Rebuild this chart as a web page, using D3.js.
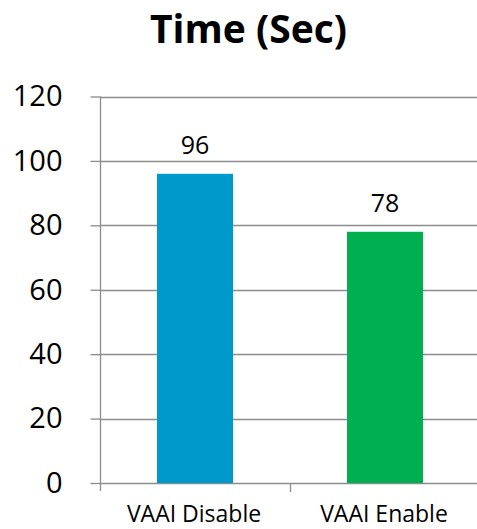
<!DOCTYPE html>
<html>
<head>
<meta charset="utf-8">
<script src="https://cdn.jsdelivr.net/npm/d3@7"></script>
<style>
  html, body { margin: 0; padding: 0; background: #fff; }
  svg { display: block; font-family: "Open Sans", "DejaVu Sans", sans-serif; }
</style>
</head>
<body>
<svg id="chart" width="477" height="529"></svg>
<script>
// Chart data
const categories = ["VAAI Disable", "VAAI Enable"];
const values = [96, 78];
const barColors = ["#0099CC", "#00B050"];
const yTicks = [0, 20, 40, 60, 80, 100, 120];
const title = "Time (Sec)";

const svg = d3.select("#chart");
const margin = { left: 100, right: -3, top: 96.5, bottom: 46 };
const W = 477, H = 529;
const plotBottom = H - margin.bottom;

const x = d3.scaleBand()
  .domain(categories)
  .range([margin.left, W - margin.right])
  .paddingInner(0)
  .paddingOuter(0);

const y = d3.scaleLinear()
  .domain([0, 120])
  .range([plotBottom, margin.top]);

const gridColor = "#8c8c8c";

// Title
svg.append("text")
  .attr("x", 248.5)
  .attr("y", 43)
  .attr("text-anchor", "middle")
  .attr("font-weight", "bold")
  .attr("font-size", 39)
  .attr("fill", "#000")
  .text(title);

// Horizontal gridlines
svg.append("g")
  .selectAll("line")
  .data(yTicks)
  .join("line")
  .attr("x1", margin.left)
  .attr("x2", W)
  .attr("y1", d => Math.round(y(d)) + 0.5)
  .attr("y2", d => Math.round(y(d)) + 0.5)
  .attr("stroke", gridColor)
  .attr("stroke-width", 1.3);

// Y axis
const yAxis = d3.axisLeft(y).tickValues(yTicks).tickSize(10).tickPadding(28);
const gy = svg.append("g")
  .attr("transform", `translate(${margin.left + 0.5},0)`)
  .call(yAxis);
gy.select(".domain").remove();
gy.selectAll(".tick line").attr("stroke", gridColor).attr("stroke-width", 1.3);
gy.selectAll(".tick text")
  .attr("font-size", 29)
  .attr("font-family", "'Open Sans', sans-serif")
  .attr("fill", "#000");

// Y axis line (runs slightly below the baseline)
svg.append("line")
  .attr("x1", margin.left + 0.5).attr("x2", margin.left + 0.5)
  .attr("y1", margin.top).attr("y2", plotBottom + 8)
  .attr("stroke", gridColor).attr("stroke-width", 1.3);

// X axis category separator ticks
const sepXs = [x(categories[1])];
svg.append("g")
  .selectAll("line")
  .data(sepXs)
  .join("line")
  .attr("x1", d => d + 0.5).attr("x2", d => d + 0.5)
  .attr("y1", plotBottom).attr("y2", plotBottom + 9)
  .attr("stroke", gridColor).attr("stroke-width", 1.3);

// Bars
const barW = x.bandwidth() * 0.4;
svg.append("g")
  .selectAll("rect")
  .data(values)
  .join("rect")
  .attr("x", (d, i) => x(categories[i]) + (x.bandwidth() - barW) / 2)
  .attr("y", d => y(d))
  .attr("width", barW)
  .attr("height", d => y(0) - y(d))
  .attr("fill", (d, i) => barColors[i]);

// Value labels
svg.append("g")
  .selectAll("text")
  .data(values)
  .join("text")
  .attr("x", (d, i) => x(categories[i]) + x.bandwidth() / 2)
  .attr("y", d => y(d) - 20)
  .attr("text-anchor", "middle")
  .attr("font-size", 25)
  .attr("fill", "#000")
  .text(d => d);

// Category labels
svg.append("g")
  .selectAll("text")
  .data(categories)
  .join("text")
  .attr("x", d => x(d) + x.bandwidth() / 2 - 1)
  .attr("y", 522)
  .attr("text-anchor", "middle")
  .attr("font-size", 23)
  .attr("fill", "#000")
  .text(d => d);
</script>
</body>
</html>
